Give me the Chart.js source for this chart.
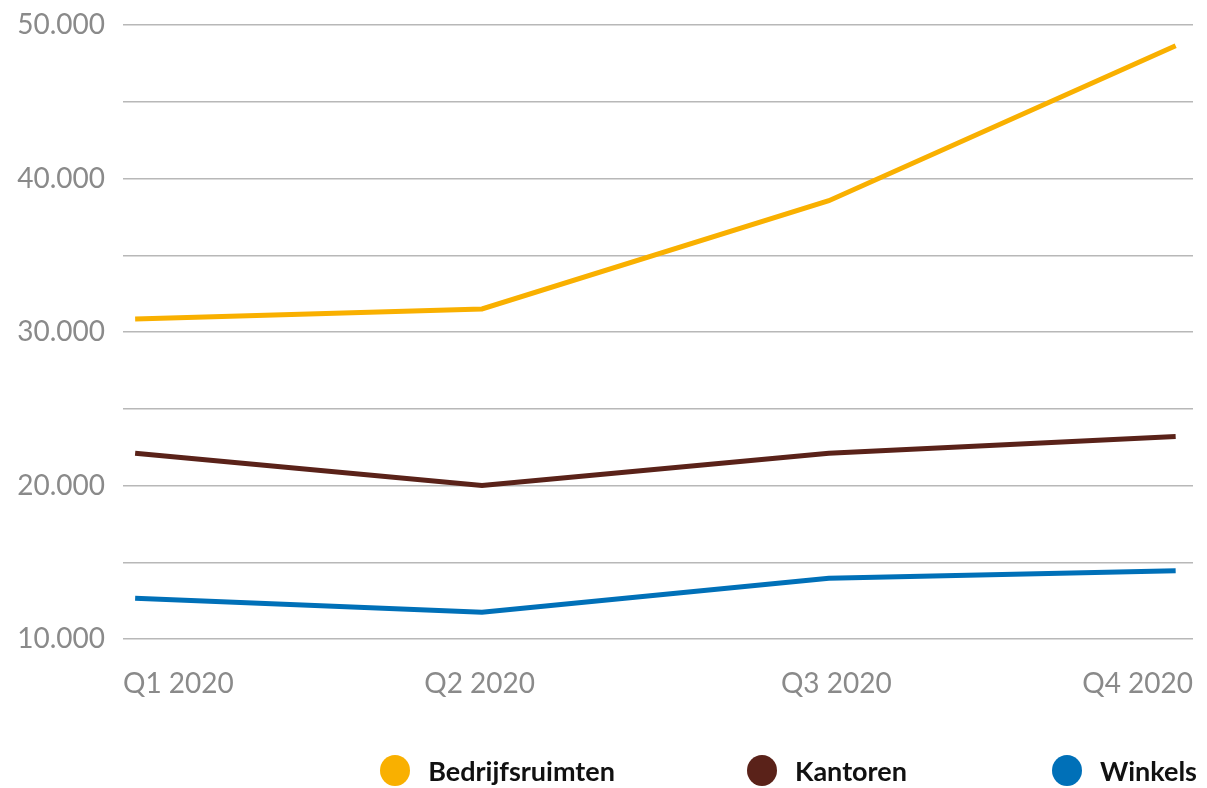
<!DOCTYPE html>
<html>
<head>
<meta charset="utf-8">
<script src="https://cdn.jsdelivr.net/npm/chart.js@4"></script>
<style>
    html, body { margin: 0; padding: 0; background: #fff; }
    #wrap { position: relative; width: 1207px; height: 788px; }
    #legend {
        position: absolute; left: 0; right: 10px; top: 754px;
        display: flex; justify-content: flex-end; align-items: center;
        font-family: "Lato", sans-serif; font-weight: bold; font-size: 27px; color: #111;
    }
    #legend .item { display: flex; align-items: center; }
    #legend .item:nth-child(2) { margin-left: 132px; }
    #legend .item:nth-child(3) { margin-left: 145px; }
    #legend .dot { width: 30px; height: 31px; border-radius: 50%; margin-right: 18px; }
</style>
</head>
<body>
<div id="wrap"><canvas id="myChart"></canvas><div id="legend"></div></div>
<script>
const quarters = ["Q1 2020", "Q2 2020", "Q3 2020", "Q4 2020"];
const bedrijfsruimten = [30850, 31500, 38550, 48650];
const kantoren = [22100, 20000, 22100, 23200];
const winkels = [12650, 11750, 13950, 14450];

const seriesNames = ["Bedrijfsruimten", "Kantoren", "Winkels"];
const seriesColors = ["#f9b000", "#5a2219", "#0070b8"];

const toPoints = (values) => values.map((v, i) => ({ x: i, y: v }));

const ctx = document.getElementById("myChart").getContext("2d");
const chart = new Chart(ctx, {
    type: "line",
    data: {
        labels: quarters,
        datasets: [bedrijfsruimten, kantoren, winkels].map((values, i) => ({
            label: seriesNames[i],
            data: toPoints(values),
            xAxisID: "xData",
            borderColor: seriesColors[i],
            backgroundColor: seriesColors[i],
            borderWidth: 5,
            pointRadius: 0,
            fill: false,
            tension: 0,
        })),
    },
    options: {
        responsive: true,
        maintainAspectRatio: false,
        animation: false,
        layout: {
            padding: { left: 0, right: 14, top: 25, bottom: 0 },
        },
        scales: {
            xData: {
                type: "linear",
                min: -0.035,
                max: 3.05,
                display: false,
            },
            x: {
                type: "category",
                offset: false,
                afterFit: (scale) => {
                    scale.height = 149;
                    scale.paddingLeft = 0;
                    scale.paddingRight = 0;
                },
                grid: { display: false },
                border: { display: false },
                ticks: {
                    align: "inner",
                    color: "#8a8a8a",
                    padding: 20,
                    maxRotation: 0,
                    font: { family: "Lato", size: 28 },
                },
            },
            y: {
                min: 10000,
                max: 50000,
                afterFit: (scale) => {
                    scale.width = 123;
                    scale.paddingTop = 0;
                    scale.paddingBottom = 0;
                },
                border: { display: false },
                grid: {
                    color: "#b8b8b8",
                    lineWidth: 1.5,
                    drawTicks: false,
                },
                ticks: {
                    stepSize: 5000,
                    color: "#8a8a8a",
                    padding: 18,
                    font: { family: "Lato", size: 28 },
                    callback: function (value) {
                        if (value % 10000 !== 0) return "";
                        return value.toLocaleString("de-DE");
                    },
                },
            },
        },
        plugins: {
            tooltip: { enabled: false },
            legend: { display: false },
        },
    },
});

// legend built from the chart's datasets
const legendEl = document.getElementById("legend");
chart.data.datasets.forEach((ds) => {
    const item = document.createElement("div");
    item.className = "item";
    const dot = document.createElement("span");
    dot.className = "dot";
    dot.style.background = ds.borderColor;
    const text = document.createElement("span");
    text.textContent = ds.label;
    item.appendChild(dot);
    item.appendChild(text);
    legendEl.appendChild(item);
});
</script>
</body>
</html>
